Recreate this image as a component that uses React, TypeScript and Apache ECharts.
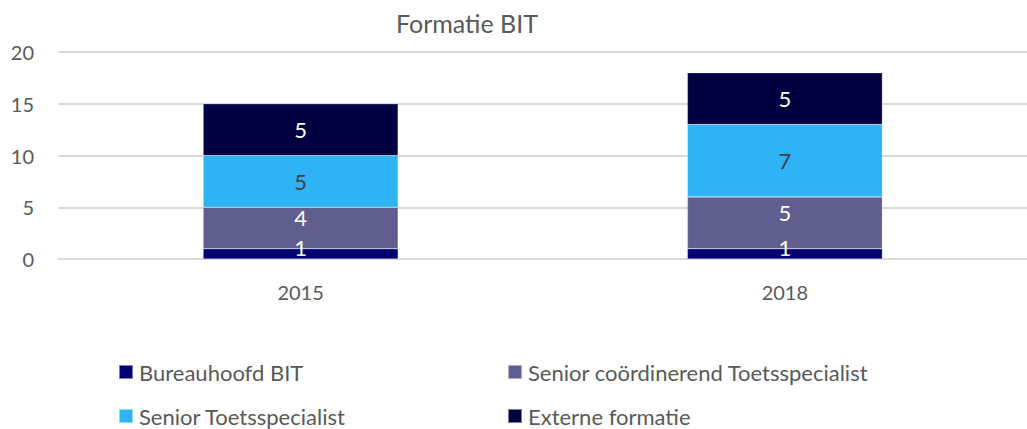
import React, { useEffect, useRef } from "react";
import * as echarts from "echarts";

const categories = ["2015", "2018"];
const seriesNames = [
  "Bureauhoofd BIT",
  "Senior coördinerend Toetsspecialist",
  "Senior Toetsspecialist",
  "Externe formatie",
];
const bureauhoofd = [1, 1];
const seniorCoord = [4, 5];
const seniorToets = [5, 7];
const externe = [5, 5];
const yTicks = { min: 0, max: 20, interval: 5 };

const colors = ["#000070", "#5F5E8E", "#2EB4F6", "#000040"];
const labelColors = ["#ffffff", "#ffffff", "#404040", "#ffffff"];
const labelOffsets = [-6, -10, 0, 0];
const FONT = "Lato";

export default function App() {
  const ref = useRef<HTMLDivElement>(null);
  useEffect(() => {
    document.body.style.margin = "0";
    const chart = echarts.init(ref.current!, null, { renderer: "svg" });
    const values = [bureauhoofd, seniorCoord, seniorToets, externe];
    const legendPos = [
      { left: 113, top: 356 },
      { left: 502, top: 356 },
      { left: 113, top: 400 },
      { left: 502, top: 400 },
    ];
    chart.setOption({
      animation: false,
      textStyle: { fontFamily: FONT },
      title: {
        text: "Formatie BIT",
        left: 462,
        textAlign: "center",
        top: 5,
        textStyle: { fontFamily: FONT, fontSize: 25, fontWeight: "normal", color: "#595959" },
      },
      legend: seriesNames.map((n, i) => ({
        data: [n],
        left: legendPos[i].left,
        top: legendPos[i].top,
        itemWidth: 14,
        itemHeight: 14,
        itemGap: 0,
        icon: "rect",
        selectedMode: false,
        textStyle: { fontFamily: FONT, fontSize: 22, color: "#595959", padding: [0, 0, 0, 1] },
      })),
      grid: { left: 58.5, width: 972, top: 52, bottom: 170, containLabel: false },
      xAxis: {
        type: "category",
        data: categories,
        axisLine: { show: true, lineStyle: { color: "#D9D9D9", width: 2 } },
        axisTick: { show: false },
        axisLabel: { fontFamily: FONT, fontSize: 20, color: "#595959", margin: 23 },
      },
      yAxis: {
        type: "value",
        min: yTicks.min,
        max: yTicks.max,
        interval: yTicks.interval,
        axisLine: { show: false },
        axisTick: { show: false },
        splitLine: { lineStyle: { color: "#D9D9D9", width: 2 } },
        axisLabel: { fontFamily: FONT, fontSize: 20, color: "#595959", margin: 24.5 },
      },
      series: seriesNames.map((n, i) => ({
        name: n,
        type: "bar",
        stack: "total",
        barWidth: 195,
        data: values[i],
        itemStyle: { color: colors[i], borderColor: "rgba(255,255,255,0.5)", borderWidth: 0.5 },
        label: {
          show: true,
          position: "inside",
          offset: [0, labelOffsets[i]],
          fontFamily: FONT,
          fontSize: 22,
          color: labelColors[i],
        },
      })),
    });
    return () => chart.dispose();
  }, []);
  return <div ref={ref} style={{ width: 1027, height: 429 }} />;
}
